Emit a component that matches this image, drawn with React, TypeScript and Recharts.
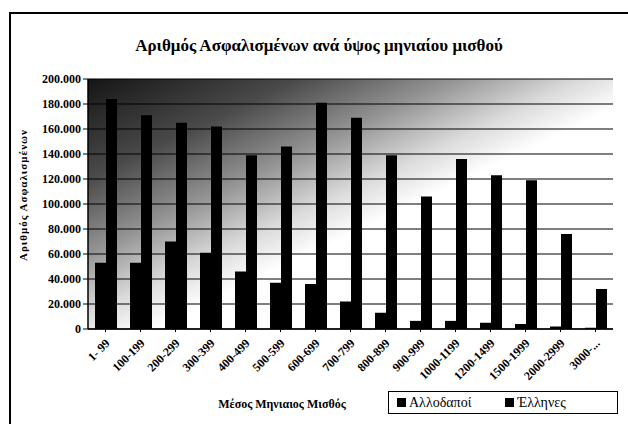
import { BarChart, Bar, XAxis, YAxis, CartesianGrid, Label } from 'recharts';

// κατηγορίες μισθού και πλήθος ασφαλισμένων
const categories = [
  '1- 99', '100-199', '200-299', '300-399', '400-499', '500-599', '600-699', '700-799',
  '800-899', '900-999', '1000-1199', '1200-1499', '1500-1999', '2000-2999', '3000-...'
];
const allodapoi = [53000, 53000, 70000, 61000, 46000, 37000, 36000, 22000, 13000, 6500, 6500, 5000, 4000, 2000, 1000];
const ellines = [184000, 171000, 165000, 162000, 139000, 146000, 181000, 169000, 139000, 106000, 136000, 123000, 119000, 76000, 32000];
const yTicks = [0, 20000, 40000, 60000, 80000, 100000, 120000, 140000, 160000, 180000, 200000];

const data = categories.map((c, i) => ({ name: c, allodapoi: allodapoi[i], ellines: ellines[i] }));

const font = '"Liberation Serif", "Times New Roman", serif';

const fmt = (v: number) => (v === 0 ? '0' : `${v / 1000}.000`);

const SalaryTick = ({ x, y, payload }: any) => {
  const tx = x + 5;
  const ty = y + 10;
  return (
    <text x={tx} y={ty} transform={`rotate(-45 ${tx} ${ty})`} textAnchor="end"
      fontFamily={font} fontWeight="bold" fontSize={12} fill="#000">
      {payload.value}
    </text>
  );
};

const YTitle = ({ viewBox }: any) => {
  const cx = viewBox.x - 1;
  const cy = 195;
  return (
    <text x={cx} y={cy} transform={`rotate(-90 ${cx} ${cy})`} textAnchor="middle"
      fontFamily={font} fontWeight="bold" fontSize={11} letterSpacing={1} fill="#000">
      Αριθμός Ασφαλισμένων
    </text>
  );
};

export default function App() {
  return (
    <div style={{ position: 'absolute', left: 0, top: 0, width: 628, height: 424, background: '#fff', overflow: 'hidden', fontFamily: font }}>
      <div style={{ position: 'absolute', left: 9, top: 12, width: 640, height: 440, borderLeft: '2px solid #000', borderTop: '2px solid #000' }} />
      <div style={{ position: 'absolute', left: 0, width: 638, top: 36, textAlign: 'center', fontWeight: 'bold', fontSize: 17 }}>
        Αριθμός Ασφαλισμένων ανά ύψος μηνιαίου μισθού
      </div>
      <BarChart width={628} height={424} data={data} barSize={11} barGap={0}
        margin={{ top: 79, right: 15, left: 28, bottom: 35 }} style={{ position: 'absolute', left: 0, top: 0 }}>
        <defs>
          <linearGradient id="bgFade" x1="0" y1="0" x2="1" y2="1">
            <stop offset="0" stopColor="#151515" />
            <stop offset="0.2" stopColor="#4a4a4a" />
            <stop offset="0.35" stopColor="#949494" />
            <stop offset="0.47" stopColor="#dadada" />
            <stop offset="0.56" stopColor="#fff" />
            <stop offset="1" stopColor="#fff" />
          </linearGradient>
        </defs>
        <CartesianGrid vertical={false} stroke="#000" strokeWidth={1.2} fill="url(#bgFade)" fillOpacity={1} />
        <XAxis dataKey="name" interval={0} height={60} tick={<SalaryTick />} tickLine={{ stroke: '#000' }} tickSize={3}
          axisLine={{ stroke: '#000', strokeWidth: 1.5 }} />
        <YAxis width={60} domain={[0, 200000]} ticks={yTicks} tickFormatter={fmt} interval={0}
          tick={{ fontFamily: font, fontWeight: 'bold', fontSize: 12, fill: '#000' }}
          tickLine={{ stroke: '#000' }} tickSize={5} axisLine={{ stroke: '#000', strokeWidth: 1.5 }}>
          <Label content={<YTitle />} />
        </YAxis>
        <YAxis yAxisId="frame" orientation="right" width={0} domain={[0, 200000]} tick={false} tickLine={false}
          axisLine={{ stroke: '#000', strokeWidth: 1.5 }} />
        <Bar dataKey="allodapoi" name="Αλλοδαποί" fill="#000" isAnimationActive={false} />
        <Bar dataKey="ellines" name="Έλληνες" fill="#000" isAnimationActive={false} />
      </BarChart>
      <div style={{ position: 'absolute', left: 192, top: 397, width: 180, textAlign: 'center', fontWeight: 'bold', fontSize: 12 }}>
        Μέσος Μηνιαιος Μισθός
      </div>
      <div style={{ position: 'absolute', left: 388, top: 391, width: 228, height: 21, border: '1.5px solid #000', display: 'flex', alignItems: 'center', fontSize: 14 }}>
        <span style={{ display: 'inline-block', width: 9, height: 9, background: '#000', marginLeft: 8, marginRight: 3 }} />
        <span>Αλλοδαποί</span>
        <span style={{ display: 'inline-block', width: 9, height: 9, background: '#000', marginLeft: 34, marginRight: 3 }} />
        <span>Έλληνες</span>
      </div>
    </div>
  );
}
